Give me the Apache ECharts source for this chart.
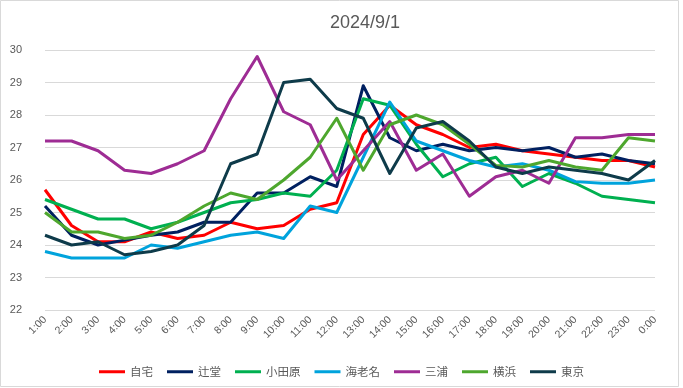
<!DOCTYPE html>
<html>
<head>
<meta charset="utf-8">
<script src="https://cdn.jsdelivr.net/npm/echarts@6/dist/echarts.min.js"></script>
<style>
html,body{margin:0;padding:0;background:#fff;}
#chart{width:683px;height:388px;}
</style>
</head>
<body>
<div id="chart"></div>
<script>
var titleText = '2024/9/1';
var categories = ['1:00','2:00','3:00','4:00','5:00','6:00','7:00','8:00','9:00','10:00','11:00','12:00','13:00','14:00','15:00','16:00','17:00','18:00','19:00','20:00','21:00','22:00','23:00','0:00'];
var seriesNames = ['自宅','辻堂','小田原','海老名','三浦','横浜','東京'];
var jitaku   = [25.7,24.6,24.1,24.1,24.4,24.2,24.3,24.7,24.5,24.6,25.1,25.3,27.4,28.3,27.7,27.4,27.0,27.1,26.9,26.8,26.7,26.6,26.6,26.4];
var tsujido  = [25.2,24.3,24.0,24.15,24.3,24.4,24.7,24.7,25.6,25.6,26.1,25.8,28.9,27.3,26.9,27.1,26.9,27.0,26.9,27.0,26.7,26.8,26.6,26.5];
var odawara  = [25.4,25.1,24.8,24.8,24.5,24.7,25.0,25.3,25.4,25.6,25.5,26.3,28.5,28.3,27.1,26.1,26.5,26.7,25.8,26.2,25.9,25.5,25.4,25.3];
var ebina    = [23.8,23.6,23.6,23.6,24.0,23.9,24.1,24.3,24.4,24.2,25.2,25.0,26.7,28.4,27.2,26.9,26.6,26.4,26.5,26.3,25.95,25.9,25.9,26.0];
var miura    = [27.2,27.2,26.9,26.3,26.2,26.5,26.9,28.5,29.8,28.1,27.7,26.0,26.9,27.8,26.3,26.8,25.5,26.1,26.3,25.9,27.3,27.3,27.4,27.4];
var yokohama = [25.0,24.4,24.4,24.2,24.3,24.7,25.2,25.6,25.4,26.0,26.7,27.9,26.3,27.7,28.0,27.7,27.1,26.45,26.4,26.6,26.4,26.3,27.3,27.2];
var tokyo    = [24.3,24.0,24.1,23.7,23.8,24.0,24.6,26.5,26.8,29.0,29.1,28.2,27.9,26.2,27.6,27.8,27.2,26.4,26.2,26.4,26.3,26.2,26.0,26.6];
var yTicks = [22,23,24,25,26,27,28,29,30];

var colors = ['#FF0000','#002060','#00B050','#00A3DC','#9E2C94','#4EA72E','#0E3B4A'];
var dataArr = [jitaku,tsujido,odawara,ebina,miura,yokohama,tokyo];

var chart = echarts.init(document.getElementById('chart'), null, {renderer:'canvas'});
var series = seriesNames.map(function(n,i){
  return {
    name:n, type:'line', data:dataArr[i], symbol:'none', smooth:false,
    lineStyle:{width:3,color:colors[i],join:'round'},
    itemStyle:{color:colors[i]},
    emphasis:{disabled:true}
  };
});
chart.setOption({
  animation:false,
  backgroundColor:'#fff',
  graphic:[{type:'rect',shape:{x:0.5,y:0.5,width:678,height:386},style:{fill:'none',stroke:'#d9d9d9',lineWidth:1},silent:true}],
  title:{text:titleText,left:325,top:9,textStyle:{fontFamily:'Liberation Sans, Arial, sans-serif',fontSize:18,fontWeight:'normal',color:'#595959'}},
  grid:{left:45,right:28,top:50,bottom:78,containLabel:false},
  legend:{
    data:seriesNames, left:'center', top:361, icon:'rect', itemWidth:26, itemHeight:3, itemGap:14,
    textStyle:{fontFamily:'Noto Sans CJK JP, sans-serif',fontSize:11.5,color:'#595959'}
  },
  xAxis:{
    type:'category', data:categories, boundaryGap:false,
    axisLine:{show:false}, axisTick:{show:false},
    axisLabel:{rotate:45,margin:8,fontFamily:'Liberation Sans, Arial, sans-serif',fontSize:10.5,color:'#595959',interval:0},
    splitLine:{show:false}
  },
  yAxis:{
    type:'value', min:yTicks[0], max:yTicks[yTicks.length-1], interval:1,
    axisLine:{show:false}, axisTick:{show:false},
    axisLabel:{margin:23,fontFamily:'Liberation Sans, Arial, sans-serif',fontSize:11,color:'#595959'},
    splitLine:{lineStyle:{color:'#d9d9d9',width:1}}
  },
  series:series
});
</script>
</body>
</html>
